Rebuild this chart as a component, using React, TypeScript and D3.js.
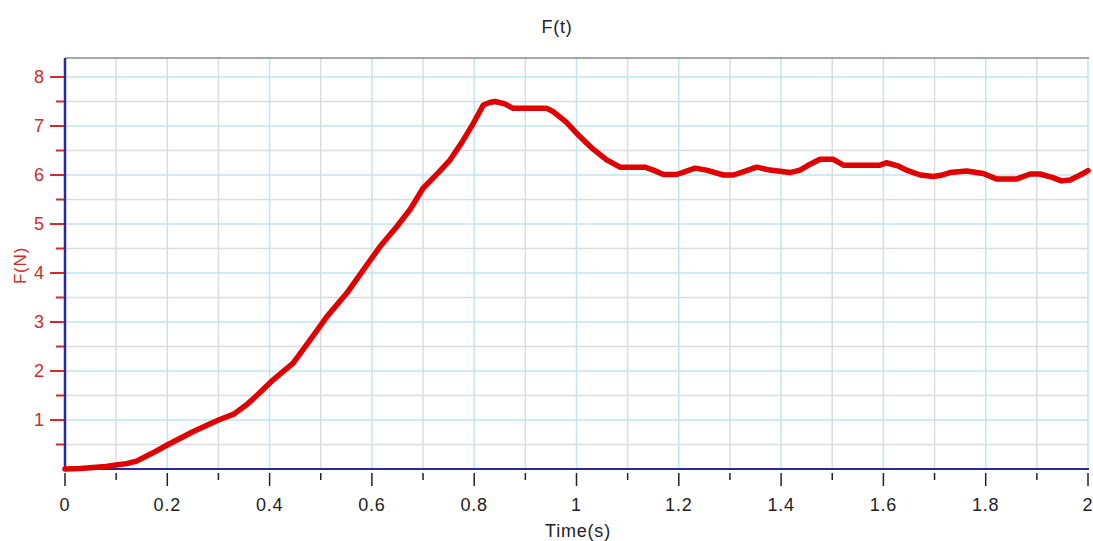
import * as d3 from "d3";
import React from "react";

const times = [0, 0.03, 0.055, 0.08, 0.1, 0.12, 0.14, 0.17, 0.2, 0.25, 0.3, 0.33, 0.355, 0.38, 0.407, 0.446, 0.479, 0.512, 0.551, 0.583, 0.616, 0.648, 0.675, 0.7, 0.73, 0.753, 0.775, 0.798, 0.818, 0.83, 0.841, 0.86, 0.876, 0.9, 0.942, 0.955, 0.98, 1.007, 1.03, 1.059, 1.085, 1.11, 1.134, 1.15, 1.17, 1.196, 1.215, 1.232, 1.254, 1.287, 1.307, 1.33, 1.352, 1.378, 1.417, 1.437, 1.457, 1.476, 1.502, 1.522, 1.56, 1.593, 1.606, 1.63, 1.645, 1.672, 1.698, 1.715, 1.73, 1.763, 1.795, 1.821, 1.861, 1.887, 1.906, 1.93, 1.948, 1.965, 1.985, 2.0];
const forces = [0, 0.01, 0.03, 0.05, 0.08, 0.11, 0.16, 0.32, 0.49, 0.76, 1.0, 1.12, 1.31, 1.55, 1.82, 2.16, 2.63, 3.11, 3.59, 4.06, 4.54, 4.94, 5.3, 5.73, 6.05, 6.31, 6.65, 7.05, 7.43, 7.48, 7.5, 7.45, 7.36, 7.36, 7.36, 7.29, 7.08, 6.78, 6.55, 6.31, 6.16, 6.16, 6.16, 6.1, 6.01, 6.01, 6.08, 6.14, 6.1, 6.0, 6.0, 6.08, 6.16, 6.1, 6.05, 6.1, 6.22, 6.32, 6.32, 6.2, 6.2, 6.2, 6.25, 6.18, 6.1, 6.0, 5.97, 6.0, 6.05, 6.08, 6.03, 5.92, 5.92, 6.02, 6.02, 5.95, 5.88, 5.9, 6.0, 6.09];

const xMajor = [0, 0.2, 0.4, 0.6, 0.8, 1, 1.2, 1.4, 1.6, 1.8, 2];
const xMinor = [0.1, 0.3, 0.5, 0.7, 0.9, 1.1, 1.3, 1.5, 1.7, 1.9];
const yMajor = [1, 2, 3, 4, 5, 6, 7, 8];
const yMinor = [0.5, 1.5, 2.5, 3.5, 4.5, 5.5, 6.5, 7.5];

const W = 1093, H = 541;
const left = 65, right = 1088, top = 58, bottom = 469;
const font = "'Liberation Sans', Arial, sans-serif";
const red = "#d42a2a";
const axisBlue = "#2a2a9a";
const ls = 0.8;

export default function App() {
  const x = d3.scaleLinear().domain([0, 2]).range([left, right]);
  const y = d3.scaleLinear().domain([0, (bottom - top) / 49]).range([bottom, top]);
  const pts: [number, number][] = times.map((t, i) => [t, forces[i]]);
  const line = d3.line<[number, number]>().x((d) => x(d[0])).y((d) => y(d[1]));

  return (
    <svg width={W} height={H} style={{ position: "absolute", left: 0, top: 0, background: "#fff" }} fontFamily={font}>
      {/* minor grid */}
      {xMinor.map((v) => (
        <line key={"xm" + v} x1={x(v)} x2={x(v)} y1={top} y2={bottom} stroke="#dcdcdc" strokeWidth={1.5} />
      ))}
      {yMinor.map((v) => (
        <line key={"ym" + v} x1={left} x2={right} y1={y(v)} y2={y(v)} stroke="#dcdcdc" strokeWidth={1.5} />
      ))}
      {/* major grid */}
      {xMajor.map((v) => (
        <line key={"xM" + v} x1={x(v)} x2={x(v)} y1={top} y2={bottom} stroke="#c2e4f2" strokeWidth={1.5} />
      ))}
      {yMajor.map((v) => (
        <line key={"yM" + v} x1={left} x2={right} y1={y(v)} y2={y(v)} stroke="#c2e4f2" strokeWidth={1.5} />
      ))}
      <line x1={left} x2={right + 1} y1={top} y2={top} stroke="#8a8a8a" strokeWidth={1.5} />

      {/* axes */}
      <line x1={left} x2={left} y1={top} y2={bottom + 1} stroke={axisBlue} strokeWidth={2.5} />
      <line x1={left} x2={right + 1} y1={bottom} y2={bottom} stroke={axisBlue} strokeWidth={2} />

      {/* y ticks */}
      {yMajor.map((v) => (
        <g key={"yt" + v}>
          <line x1={50} x2={64} y1={y(v)} y2={y(v)} stroke={red} strokeWidth={2} />
          <text x={44} y={y(v)} dy="0.35em" textAnchor="end" fill={red} fontSize={18}>{v}</text>
        </g>
      ))}
      {yMinor.map((v) => (
        <line key={"ymt" + v} x1={56} x2={64} y1={y(v)} y2={y(v)} stroke={red} strokeWidth={2} />
      ))}

      {/* x ticks */}
      {xMajor.map((v) => (
        <g key={"xt" + v}>
          <line x1={x(v)} x2={x(v)} y1={473} y2={486} stroke="#222" strokeWidth={1.5} />
          <text x={x(v)} y={511} textAnchor="middle" fill="#222" fontSize={18} letterSpacing={ls}>{String(v)}</text>
        </g>
      ))}
      {xMinor.map((v) => (
        <line key={"xmt" + v} x1={x(v)} x2={x(v)} y1={473} y2={480} stroke="#222" strokeWidth={1.5} />
      ))}

      {/* data */}
      <path d={line(pts) || ""} fill="none" stroke="#e00000" strokeWidth={5.5} strokeLinejoin="round" strokeLinecap="round" />

      {/* labels */}
      <text x={557} y={33} textAnchor="middle" fill="#222" fontSize={18} letterSpacing={ls}>F(t)</text>
      <text x={578} y={537} textAnchor="middle" fill="#222" fontSize={18} letterSpacing={ls}>Time(s)</text>
      <text transform={`translate(26,${(top + bottom) / 2 + 2}) rotate(-90)`} textAnchor="middle" fill={red} fontSize={17} letterSpacing={ls}>F(N)</text>
    </svg>
  );
}
